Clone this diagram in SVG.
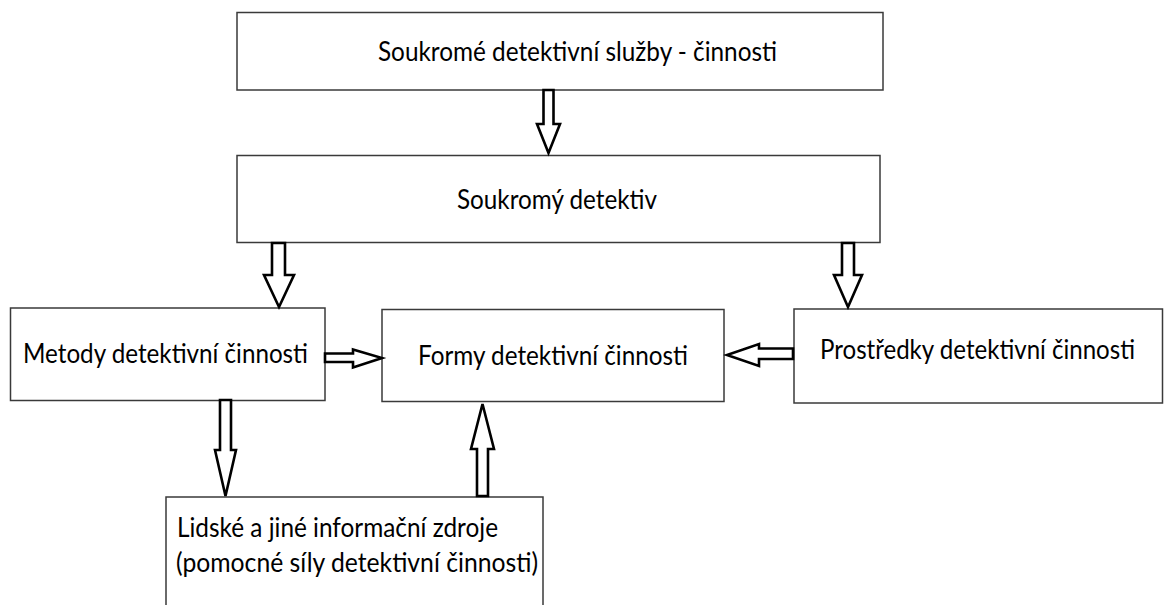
<svg xmlns="http://www.w3.org/2000/svg" width="1164" height="605" viewBox="0 0 1164 605">
<style>
.box{fill:#fff;stroke:#3a3a3a;stroke-width:1.5}
.lbl{font-family:Lato,"Liberation Sans",sans-serif;font-size:27px;fill:#000}
.arr{fill:#fff;stroke:#000;stroke-width:2.6;stroke-linejoin:miter}
</style>
<rect width="1164" height="605" fill="#fff"/>
<g id="n-sluzby">
<rect class="box" x="237" y="12.5" width="646" height="77.5"/>
<text class="lbl" x="378" y="61" textLength="399" lengthAdjust="spacingAndGlyphs">Soukromé detektivní služby - činnosti</text>
</g>
<g id="n-detektiv">
<rect class="box" x="237" y="155.5" width="643" height="87"/>
<text class="lbl" x="457" y="209" textLength="200" lengthAdjust="spacingAndGlyphs">Soukromý detektiv</text>
</g>
<g id="n-metody">
<rect class="box" x="10.5" y="308" width="314.5" height="92.5"/>
<text class="lbl" x="23" y="363" textLength="285" lengthAdjust="spacingAndGlyphs">Metody detektivní činnosti</text>
</g>
<g id="n-formy">
<rect class="box" x="382" y="309.5" width="342" height="92"/>
<text class="lbl" x="418" y="365" textLength="270" lengthAdjust="spacingAndGlyphs">Formy detektivní činnosti</text>
</g>
<g id="n-prostredky">
<rect class="box" x="794" y="309" width="368.5" height="94"/>
<text class="lbl" x="820" y="359" font-size="26" textLength="315" lengthAdjust="spacingAndGlyphs" style="font-size:26px">Prostředky detektivní činnosti</text>
</g>
<g id="n-zdroje">
<rect class="box" x="166" y="497" width="377" height="130"/>
<text class="lbl" x="177" y="537" textLength="321" lengthAdjust="spacingAndGlyphs">Lidské a jiné informační zdroje</text>
<text class="lbl" x="176" y="572" textLength="362" lengthAdjust="spacingAndGlyphs">(pomocné síly detektivní činnosti)</text>
</g>
<g id="connectors">
<polygon class="arr" points="543.5,90 553.5,90 553.5,124 560,124 548.5,153 537,124 543.5,124"/>
<polygon class="arr" points="272,243 285,243 285,275 294,275 279,307 264,275 272,275"/>
<polygon class="arr" points="842,243 854,243 854,275 862,275 848,307 834,275 842,275"/>
<polygon class="arr" points="325,353.5 353,353.5 353,349.5 382,358 353,367.5 353,362 325,362"/>
<polygon class="arr" points="793,348.5 759,348.5 759,344 727,355 759,366 759,359 793,359"/>
<polygon class="arr" points="220,400 231,400 231,450 236,450 225.5,496 215,450 220,450"/>
<polygon class="arr" points="477,496 488,496 488,449 494,449 482.5,404 471,449 477,449"/>
</g>
</svg>
